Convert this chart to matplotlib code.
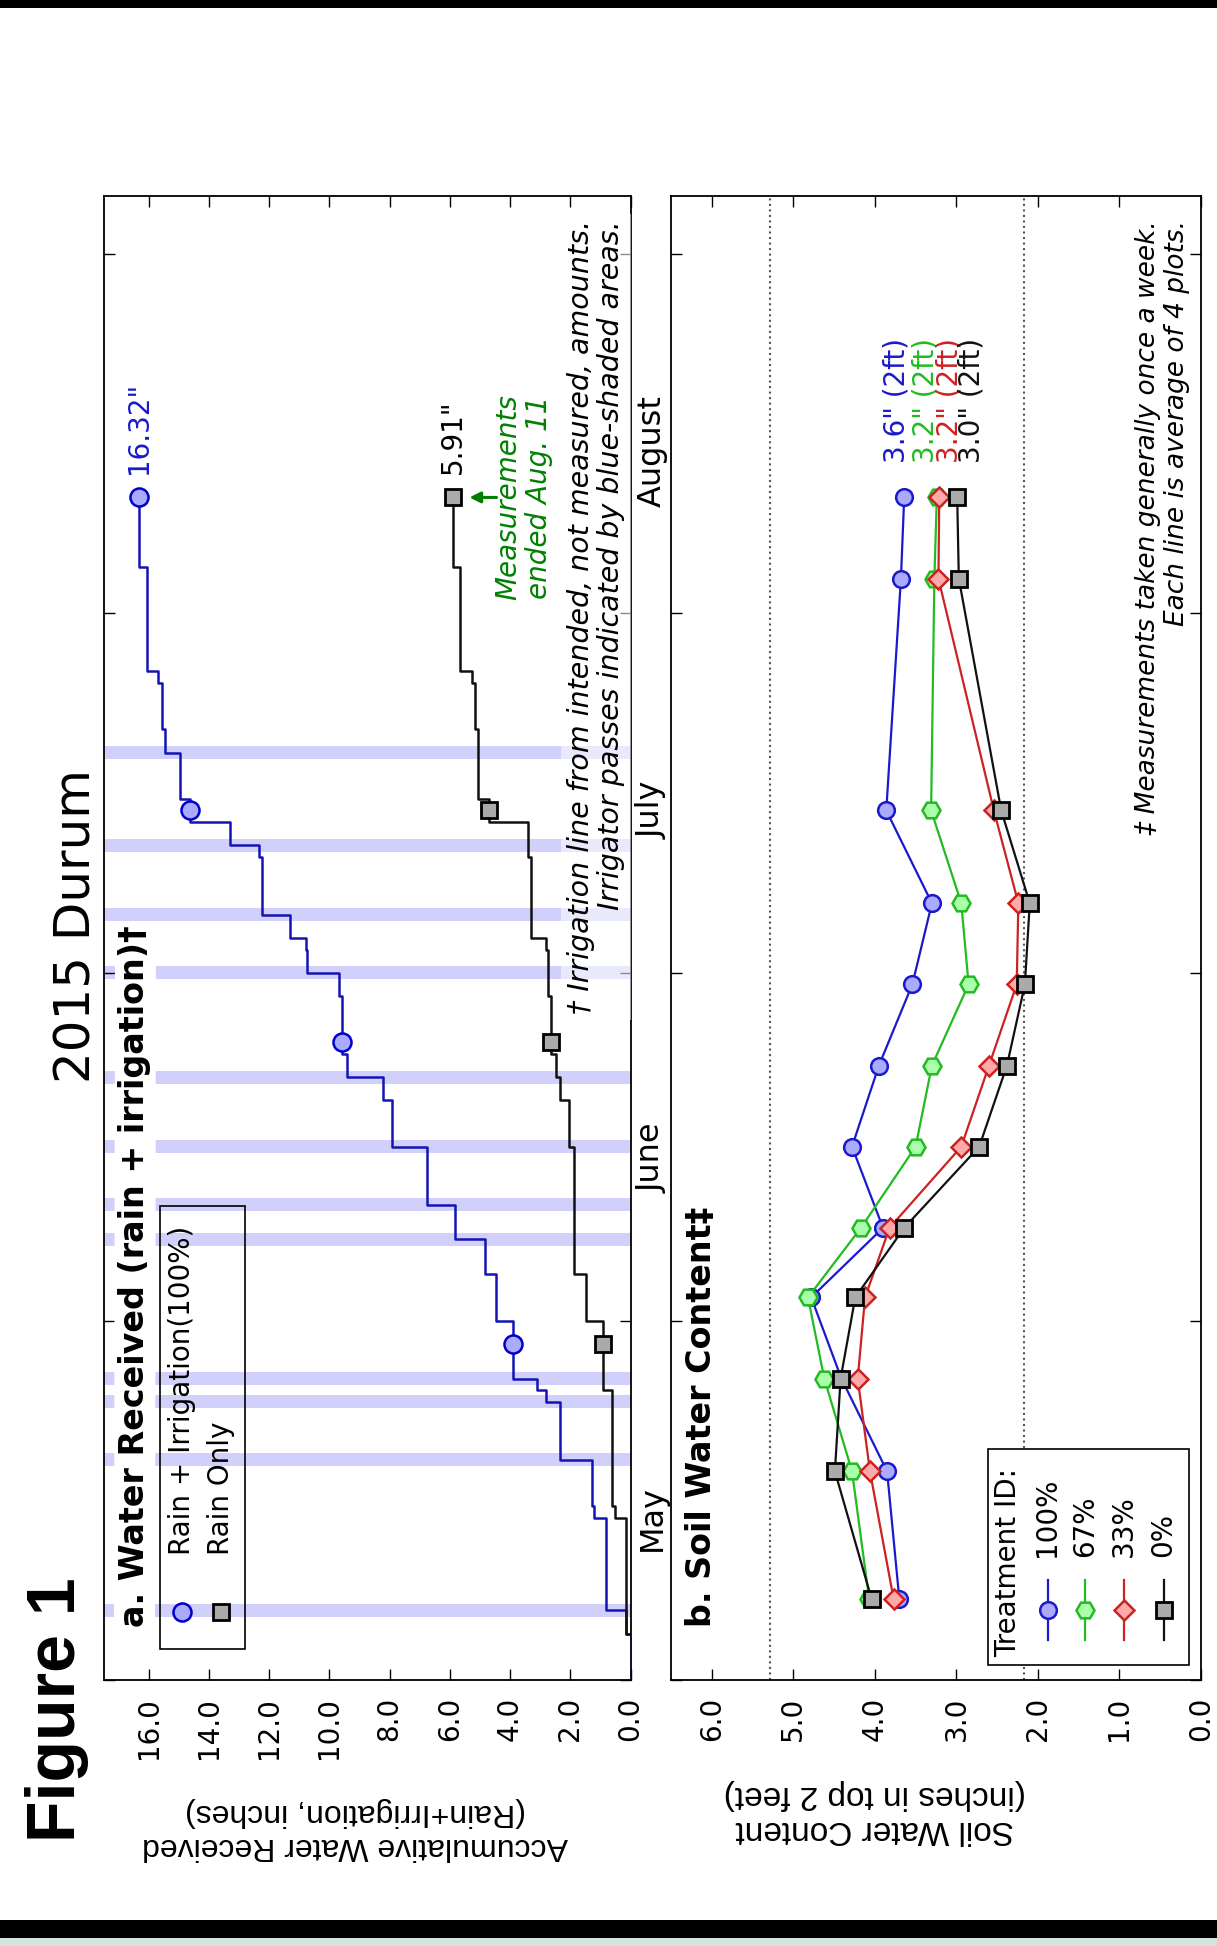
import numpy as np
import matplotlib
matplotlib.use("Agg")
import matplotlib.pyplot as plt
import matplotlib.dates as mdates
from matplotlib.lines import Line2D
from matplotlib.patches import Rectangle
from matplotlib.transforms import blended_transform_factory
from matplotlib.ticker import MultipleLocator, FormatStrFormatter, NullFormatter

plt.rcParams['font.family'] = ['DejaVu Sans']

# ---------------- data ----------------
# rain events (inches)
rain_dates = ['2015-05-05', '2015-05-15', '2015-05-16', '2015-05-26', '2015-06-01',
              '2015-06-05', '2015-06-16', '2015-06-20', '2015-06-22', '2015-06-24',
              '2015-06-29', '2015-07-03', '2015-07-04', '2015-07-11', '2015-07-14',
              '2015-07-16', '2015-07-22', '2015-07-26', '2015-07-27', '2015-08-05']
rain_inches = [0.15, 0.38, 0.08, 0.31, 0.56,
               0.39, 0.18, 0.30, 0.12, 0.18,
               0.10, 0.05, 0.52, 0.07, 1.31,
               0.35, 0.10, 0.12, 0.38, 0.26]

# irrigator passes (intended amounts, inches)
irrigation_dates = ['2015-05-07', '2015-05-20', '2015-05-25', '2015-05-27', '2015-06-08',
                    '2015-06-11', '2015-06-16', '2015-06-22', '2015-07-01', '2015-07-06',
                    '2015-07-12', '2015-07-20']
irrigation_inches = [0.67, 1.05, 0.48, 0.77, 0.98,
                     0.93, 1.00, 1.06, 1.04, 0.95,
                     0.99, 0.49]

season_start = '2015-05-01'
season_end = '2015-08-11'
water_marker_dates = ['2015-05-30', '2015-06-25', '2015-07-15', '2015-08-11']

# soil water content in top 2 feet (inches)
soil_dates = ['2015-05-08', '2015-05-19', '2015-05-27', '2015-06-03', '2015-06-09',
              '2015-06-16', '2015-06-23', '2015-06-30', '2015-07-07', '2015-07-15',
              '2015-08-04', '2015-08-11']
soil_100 = [3.70, 3.85, 4.41, 4.78, 3.90, 4.28, 3.95, 3.54, 3.30, 3.86, 3.68, 3.64]
soil_67 = [4.07, 4.28, 4.62, 4.82, 4.17, 3.50, 3.30, 2.85, 2.94, 3.31, 3.27, 3.24]
soil_33 = [3.77, 4.06, 4.21, 4.12, 3.82, 2.94, 2.60, 2.26, 2.24, 2.54, 3.22, 3.21]
soil_0 = [4.04, 4.49, 4.42, 4.24, 3.64, 2.72, 2.38, 2.16, 2.10, 2.45, 2.97, 2.99]
treatment_labels = ['100%', '67%', '33%', '0%']

# reference levels drawn as dotted lines
soil_levels = [5.28, 2.17]

month_labels = ['May', 'June', 'July', 'August']
month_label_dates = ['2015-05-15', '2015-06-15', '2015-07-15', '2015-08-15']

water_ticks_step = 2.0
soil_ticks_step = 1.0

# ---------------- helpers ----------------
W, H = 1217, 1946
fig = plt.figure(figsize=(W / 100, H / 100), dpi=100)


def dnum(d):
    return mdates.date2num(np.array(d, dtype='datetime64[D]'))


def px_rect(x0, y0, x1, y1):
    return [x0 / W, 1 - y1 / H, (x1 - x0) / W, (y1 - y0) / H]


AX_A = (103.5, 196, 630.5, 1680)
AX_B = (671, 196, 1201, 1680)


def to_axes(box, x, y):
    x0, y0, x1, y1 = box
    return (x - x0) / (x1 - x0), (y1 - y) / (y1 - y0)


t_lo = dnum('2015-05-01')
t_hi = dnum('2015-09-06')

# page edges
fig.patches.append(Rectangle((0, 1 - 8 / H), 1, 8 / H, transform=fig.transFigure,
                             facecolor='black', edgecolor='none'))
fig.patches.append(Rectangle((0, 8 / H), 1, 18 / H, transform=fig.transFigure,
                             facecolor='black', edgecolor='none'))
fig.patches.append(Rectangle((0, 0), 1, 8 / H, transform=fig.transFigure,
                             facecolor='#d5e2dd', edgecolor='none'))

ax_a = fig.add_axes(px_rect(*AX_A))
ax_b = fig.add_axes(px_rect(*AX_B))


def style_axes(ax, vmax, step):
    ax.set_xlim(vmax, 0)
    ax.set_ylim(t_lo, t_hi)
    ax.xaxis.set_major_locator(MultipleLocator(step))
    ax.xaxis.set_major_formatter(FormatStrFormatter('%.1f'))
    ax.tick_params(axis='x', which='major', direction='in', top=True, bottom=True,
                   length=8, width=1, labelsize=20, labelrotation=90, pad=12)
    ax.yaxis.set_major_locator(mdates.MonthLocator())
    ax.yaxis.set_major_formatter(NullFormatter())
    ax.tick_params(axis='y', which='major', direction='in', left=True, right=True,
                   length=8, width=1, labelleft=False, labelright=False)
    for s in ax.spines.values():
        s.set_linewidth(1.3)


style_axes(ax_a, 17.5, water_ticks_step)
style_axes(ax_b, 6.5, soil_ticks_step)

# month names beside the water panel
month_tr = blended_transform_factory(ax_a.transAxes, ax_a.transData)
for name, d in zip(month_labels, dnum(month_label_dates)):
    ax_a.text(1 + 6 / 527, d, name, transform=month_tr, rotation=90, ha='left',
              va='center', fontsize=23, clip_on=False)

# ---------------- panel a: accumulated water ----------------
BLUE_LINE = '#1414b4'
style_irr = dict(marker='o', ms=13, mfc='#aaaaff', mec='#0000cc', mew=1.8)
style_rain = dict(marker='s', ms=12, mfc='#aaaaaa', mec='black', mew=2)

r_t = dnum(rain_dates)
i_t = dnum(irrigation_dates)
r_v = np.array(rain_inches)
i_v = np.array(irrigation_inches)

all_t = np.unique(np.concatenate([r_t, i_t]))
both_v = np.array([r_v[r_t == t].sum() + i_v[i_t == t].sum() for t in all_t])

t_start, t_end = dnum(season_start), dnum(season_end)

irr_cum = np.cumsum(both_v)
rain_cum = np.cumsum(r_v)

irr_x = np.concatenate([[0], irr_cum, [irr_cum[-1]]])
irr_y = np.concatenate([[t_start], all_t, [t_end]])
rain_x = np.concatenate([[0], rain_cum, [rain_cum[-1]]])
rain_y = np.concatenate([[t_start], r_t, [t_end]])

for t in i_t:
    ax_a.axhspan(t - 0.55, t + 0.55, color='#d0d0fa', lw=0, zorder=1)

ax_a.plot(irr_x, irr_y, drawstyle='steps-pre', color=BLUE_LINE, lw=1.8, zorder=3)
ax_a.plot(rain_x, rain_y, drawstyle='steps-pre', color='#111111', lw=1.8, zorder=3)

m_t = dnum(water_marker_dates)


def value_at(times, cum, t):
    idx = np.searchsorted(times, t, side='right') - 1
    return np.where(idx >= 0, cum[np.clip(idx, 0, None)], 0.0)


ax_a.plot(value_at(all_t, irr_cum, m_t), m_t, ls='none', zorder=4, **style_irr)
ax_a.plot(value_at(r_t, rain_cum, m_t), m_t, ls='none', zorder=4, **style_rain)

irr_total = irr_cum[-1]
rain_total = rain_cum[-1]
ax_a.text(irr_total, t_end + 2, f'{irr_total:.2f}"', rotation=90, ha='center',
          va='bottom', fontsize=20, color='#1a1acc', zorder=5)
ax_a.text(rain_total, t_end + 2, f'{rain_total:.2f}"', rotation=90, ha='center',
          va='bottom', fontsize=20, color='black', zorder=5)

ax_a.annotate('', xy=(5.35, t_end), xytext=(4.45, t_end),
              arrowprops=dict(arrowstyle='-|>', color='green', lw=2.2,
                              mutation_scale=16, shrinkA=0, shrinkB=0))
ax_a.text(3.55, t_end, 'Measurements\nended Aug. 11', rotation=90, ha='center',
          va='center', fontsize=20, color='green', style='italic',
          multialignment='center', linespacing=1.1)

xa, ya = to_axes(AX_A, 135, 1627)
ax_a.text(xa, ya, 'a. Water Received (rain + irrigation)\u2020', transform=ax_a.transAxes,
          rotation=90, ha='center', va='bottom', fontsize=24, fontweight='bold',
          bbox=dict(facecolor='white', edgecolor='none', pad=3), zorder=2)

xa, ya = to_axes(AX_A, 596, 220)
ax_a.text(xa, ya, '\u2020 Irrigation line from intended, not measured, amounts.\n'
          'Irrigator passes indicated by blue-shaded areas.',
          transform=ax_a.transAxes, rotation=90, ha='center', va='top',
          multialignment='right', fontsize=20.5, style='italic', linespacing=1.1,
          bbox=dict(facecolor='white', edgecolor='none', alpha=0.55, pad=4),
          zorder=6, clip_on=False)

# legend for panel a (drawn rotated with the page)
lx0, ly0 = to_axes(AX_A, 160, 1649)
lx1, ly1 = to_axes(AX_A, 245, 1206)
ax_a.add_patch(Rectangle((lx0, ly0), lx1 - lx0, ly1 - ly0, transform=ax_a.transAxes,
                         facecolor='none', edgecolor='black', lw=1.2, zorder=6))
for xp, sty, lab in [(182, style_irr, 'Rain + Irrigation(100%)'),
                     (221, style_rain, 'Rain Only')]:
    hx, hy = to_axes(AX_A, xp, 1612)
    ax_a.add_line(Line2D([hx], [hy], transform=ax_a.transAxes, ls='none',
                         clip_on=False, zorder=7, **sty))
    tx, ty = to_axes(AX_A, xp, 1555)
    ax_a.text(tx, ty, lab, transform=ax_a.transAxes, rotation=90, ha='center',
              va='bottom', fontsize=20, zorder=7)

# ---------------- panel b: soil water ----------------
s_t = dnum(soil_dates)
series = [soil_100, soil_67, soil_33, soil_0]
styles = [
    dict(color='#1a1acc', marker='o', ms=12, mfc='#aaaaff', mec='#1a1acc', mew=1.8),
    dict(color='#22bb22', marker='H', ms=13, mfc='#aaffaa', mec='#22bb22', mew=1.8),
    dict(color='#cc2222', marker='D', ms=10, mfc='#ffaaaa', mec='#cc2222', mew=1.8),
    dict(color='#111111', marker='s', ms=12, mfc='#aaaaaa', mec='black', mew=2),
]
for k, (vals, sty) in enumerate(zip(series, styles)):
    ax_b.plot(vals, s_t, lw=1.6, zorder=3 + k, **sty)

for lvl in soil_levels:
    ax_b.axvline(lvl, color='#555555', ls=':', lw=1.5, zorder=1)

label_pos = [3.73, 3.38, 3.08, 2.81]
for vals, sty, xp in zip(series, styles, label_pos):
    ax_b.text(xp, t_end + 3, f'{vals[-1]:.1f}" (2ft)', rotation=90, ha='center',
              va='bottom', fontsize=20, color=sty['color'], zorder=5)

xb, yb = to_axes(AX_B, 701, 1627)
ax_b.text(xb, yb, 'b. Soil Water Content\u2021', transform=ax_b.transAxes,
          rotation=90, ha='center', va='bottom', fontsize=24, fontweight='bold', zorder=2)

xb, yb = to_axes(AX_B, 1163, 220)
ax_b.text(xb, yb, '\u2021 Measurements taken generally once a week.\n'
          'Each line is average of 4 plots.',
          transform=ax_b.transAxes, rotation=90, ha='center', va='top',
          multialignment='right', fontsize=19, style='italic', linespacing=1.15,
          zorder=6, clip_on=False)

# legend for panel b
lx0, ly0 = to_axes(AX_B, 988, 1665)
lx1, ly1 = to_axes(AX_B, 1189, 1449)
ax_b.add_patch(Rectangle((lx0, ly0), lx1 - lx0, ly1 - ly0, transform=ax_b.transAxes,
                         facecolor='white', edgecolor='black', lw=1.2, zorder=8))
tx, ty = to_axes(AX_B, 1008, 1657)
ax_b.text(tx, ty, 'Treatment ID:', transform=ax_b.transAxes, rotation=90,
          ha='center', va='bottom', fontsize=20, zorder=9)
for xp, sty, lab in zip([1047.5, 1085, 1124.3, 1163.6], styles, treatment_labels):
    hx, hy0 = to_axes(AX_B, xp, 1640)
    _, hym = to_axes(AX_B, xp, 1610)
    _, hy1 = to_axes(AX_B, xp, 1580)
    ax_b.add_line(Line2D([hx, hx, hx], [hy0, hym, hy1], transform=ax_b.transAxes,
                         markevery=[1], lw=1.6, clip_on=False, zorder=9, **sty))
    tx, ty = to_axes(AX_B, xp, 1557)
    ax_b.text(tx, ty, lab, transform=ax_b.transAxes, rotation=90, ha='center',
              va='bottom', fontsize=20, zorder=9)

# ---------------- page titles and axis labels ----------------
fig.text(77 / W, 1 - 926 / H, '2015 Durum', rotation=90, ha='center', va='center',
         fontsize=36)
fig.text(57 / W, 1 - 1842 / H, 'Figure 1', rotation=90, ha='center', va='bottom',
         fontsize=49, fontweight='bold', family=['Liberation Sans', 'DejaVu Sans'])

narrow = ['Liberation Sans Narrow', 'Liberation Sans', 'DejaVu Sans']
fig.text(355 / W, 1 - 1829 / H,
         'Accumulative Water Received\n(Rain+Irrigation, inches)',
         rotation=180, ha='center', va='center', fontsize=23, family=narrow,
         multialignment='center')
fig.text(875 / W, 1 - 1812 / H, 'Soil Water Content\n(inches in top 2 feet)',
         rotation=180, ha='center', va='center', fontsize=24, family=narrow,
         multialignment='center')

fig.savefig('out.png', dpi=100)
